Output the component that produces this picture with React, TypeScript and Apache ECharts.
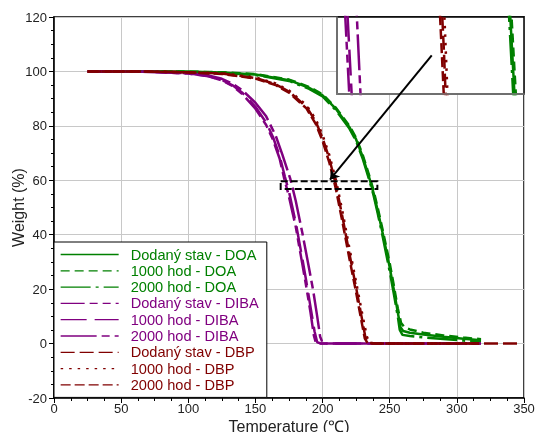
import React, { useEffect, useRef } from "react";
import * as echarts from "echarts";

// ---- data (x = temperature °C, y = weight %) ----
const doaDodany: number[][] = [[28,100],[50,100],[75,100],[100,99.9],[125,99.6],[150,98.9],[175,96.8],[190,94.0],[200,91.2],[210,86.2],[220,79.5],[225,75],[230,68.5],[235,60.5],[238,55.3],[241,49],[245,40],[250,28],[253,20],[256,11.5],[258,6],[260,4.6],[265,4.0],[275,3.3],[290,2.5],[305,1.8],[318,1.2]];
const doa1000: number[][] = [[28,100],[50,100],[75,100],[100,99.9],[125,99.7],[150,99.0],[175,97.0],[190,94.3],[200,91.6],[210,86.6],[220,80],[225,75.6],[230,69.2],[235,61.3],[238,56.2],[241,50],[245,41.2],[250,29.5],[253,21.5],[256,13],[258.5,7.5],[261,6.0],[265,5.2],[275,4.0],[290,3.0],[305,2.2],[318,1.6]];
const doa2000: number[][] = [[28,100],[50,100],[75,100],[100,99.9],[125,99.5],[150,98.7],[175,96.5],[190,93.6],[200,90.8],[210,85.7],[220,79],[225,74.4],[230,67.8],[235,59.7],[238,54.4],[241,48],[245,38.8],[250,26.5],[253,18.5],[256,10],[257.5,5],[259.5,3.2],[265,2.8],[275,2.3],[290,1.7],[305,1.1],[318,0.7]];

const dibaDodany: number[][] = [[25,100],[50,100],[75,99.8],[100,99.2],[115,98.2],[125,96.7],[133,94.6],[140,91.8],[150,86.3],[158,80.3],[163,75],[168,68],[171.5,60.5],[174.5,55],[180,43],[185,29],[188,20.5],[191,11.5],[193.5,3],[195,0.3],[198,0],[220,0],[250,0],[290,0],[318,0]];
const diba1000: number[][] = [[25,100],[50,100],[75,99.8],[100,99.3],[115,98.3],[125,96.9],[133,94.9],[140,92.3],[150,87],[158,81.2],[163,76],[168,69],[172,61.2],[175,55.8],[180,44.5],[185,31],[188,22.5],[191,13.5],[194,4.5],[196,0.5],[199,0],[220,0],[250,0],[290,0],[318,0]];
const diba2000: number[][] = [[25,100],[50,100],[75,99.8],[100,99.3],[115,98.5],[125,97.3],[133,95.5],[140,93.2],[150,88.5],[158,83.5],[165,76.5],[170,69.5],[176,60.5],[180,52.5],[185,40.5],[190,27.5],[193,19.5],[196,10],[198.2,2.5],[200,0.3],[203,0],[220,0],[250,0],[290,0],[318,0]];

const dbpDodany: number[][] = [[25,100],[50,100],[75,99.9],[100,99.7],[125,99.2],[150,97.6],[165,95.3],[175,92.6],[188,87],[195,81.5],[200,75.5],[205,68],[210,58.3],[215,46],[220,33],[225,20.5],[229,10],[232,2],[234,0.3],[240,0],[260,0],[290,0],[320,0],[347,0]];
const dbp1000: number[][] = [[25,100],[50,100],[75,99.9],[100,99.7],[125,99.3],[150,97.8],[165,95.6],[175,93],[188,87.6],[195,82.3],[200,76.6],[205,69.3],[210,60],[215,48],[220,35],[225,22.5],[229.5,11],[233,2.5],[235,0.3],[240,0],[260,0],[290,0],[318,0]];
const dbp2000: number[][] = [[25,100],[50,100],[75,99.9],[100,99.6],[125,99.1],[150,97.4],[165,95],[175,92.2],[188,86.4],[195,80.6],[200,74.4],[205,66.6],[210,56.6],[215,44.2],[220,31.2],[225,18.8],[228.5,9.5],[231.5,1.8],[233.5,0.2],[240,0],[260,0],[290,0],[318,0]];

const seriesNames = [
  "Dodaný stav - DOA", "1000 hod - DOA", "2000 hod - DOA",
  "Dodaný stav - DIBA", "1000 hod - DIBA", "2000 hod - DIBA",
  "Dodaný stav - DBP", "1000 hod - DBP", "2000 hod - DBP",
];
const seriesData = [doaDodany, doa1000, doa2000, dibaDodany, diba1000, diba2000, dbpDodany, dbp1000, dbp2000];

// zoomed region (data coords) and arrow (data coords)
const zoomX = [168.8, 240.8];
const zoomY = [56.8, 59.6];
const arrowFrom = [281.3, 105.9];
const arrowTo = [205.5, 60.2];

const xTicks = { min: 0, max: 350, interval: 50 };
const yTicks = { min: -20, max: 120, interval: 20 };

// ---- styles ----
const GREEN = "#008000";
const PURPLE = "#800080";
const RED = "#800000";
const colors = [GREEN, GREEN, GREEN, PURPLE, PURPLE, PURPLE, RED, RED, RED];
const dashes: any[] = [
  "solid", [9, 5], [30, 5, 3, 5],
  [24, 5, 8, 5, 8, 5], [26, 8], [36, 5, 8, 5],
  [14, 5], [2.5, 6], [10, 4],
];
const FONT = "'Liberation Sans', Arial, sans-serif";

export default function App() {
  const ref = useRef<HTMLDivElement>(null);
  useEffect(() => {
    if (!ref.current) return;
    const chart = echarts.init(ref.current, undefined, { renderer: "svg" });

    const mainSeries = seriesNames.map((name, i) => ({
      type: "line",
      name,
      data: seriesData[i],
      xAxisIndex: 0,
      yAxisIndex: 0,
      symbol: "none",
      showSymbol: false,
      z: 2,
      lineStyle: { color: colors[i], width: 2.5, type: dashes[i] },
      itemStyle: { color: colors[i] },
    }));
    const insetSeries = seriesNames.map((name, i) => ({
      type: "line",
      name,
      data: seriesData[i],
      xAxisIndex: 1,
      yAxisIndex: 1,
      symbol: "none",
      showSymbol: false,
      z: 6,
      clip: true,
      lineStyle: { color: colors[i], width: 2.5, type: dashes[i] },
      itemStyle: { color: colors[i] },
    }));
    const annotation = {
      type: "line",
      data: [],
      xAxisIndex: 0,
      yAxisIndex: 0,
      z: 30,
      symbol: "none",
      markArea: {
        silent: true,
        z: 30,
        itemStyle: { color: "rgba(0,0,0,0)", borderColor: "#000", borderWidth: 2, borderType: [7, 3] },
        label: { show: false },
        data: [[{ coord: [zoomX[0], zoomY[1]] }, { coord: [zoomX[1], zoomY[0]] }]],
      },
      markLine: {
        silent: true,
        z: 30,
        symbol: ["none", "arrow"],
        symbolSize: 9,
        label: { show: false },
        lineStyle: { color: "#000", width: 2, type: "solid" },
        data: [[{ coord: arrowFrom }, { coord: arrowTo }]],
      },
    };

    chart.setOption({
      animation: false,
      textStyle: { fontFamily: FONT },
      grid: [
        { left: 54, right: 12, top: 17, bottom: 34, outerBoundsMode: "none", containLabel: false, show: true, borderColor: "#000", borderWidth: 1.5, backgroundColor: "#fff" },
        { left: 337, right: 12, top: 17, height: 77, outerBoundsMode: "none", containLabel: false, show: true, borderColor: "#000", borderWidth: 1.5, backgroundColor: "#fff", z: 5 },
      ],
      legend: {
        orient: "vertical",
        left: 54,
        top: 242,
        itemWidth: 58,
        itemHeight: 14,
        itemGap: 1.3,
        padding: [5, 8, 5, 6],
        backgroundColor: "#fff",
        borderColor: "#000",
        borderWidth: 1,
        selectedMode: false,
        itemStyle: { opacity: 0 },
        lineStyle: { width: 1.3 },
        textStyle: { fontSize: 14.6, fontFamily: FONT, padding: [0, 0, 0, 7] },
        data: seriesNames.map((name, i) => ({ name, textStyle: { color: colors[i] } })),
      },
      xAxis: [
        {
          type: "value",
          gridIndex: 0,
          ...xTicks,
          name: "Temperature (\u2103)",
          nameLocation: "middle",
          nameGap: 20,
          nameMoveOverlap: false,
          nameTextStyle: { fontSize: 16, color: "#222", fontFamily: FONT },
          axisLine: { show: true, onZero: false, lineStyle: { color: "#000", width: 1.5 } },
          axisTick: { show: true, length: 5, lineStyle: { color: "#000" } },
          minorTick: { show: true, splitNumber: 4, length: 3, lineStyle: { color: "#000" } },
          axisLabel: { fontSize: 13, color: "#222", margin: 4, fontFamily: FONT },
          splitLine: { show: true, lineStyle: { color: "#c8c8c8", width: 1 } },
        },
        {
          type: "value",
          gridIndex: 1,
          min: zoomX[0],
          max: zoomX[1],
          z: 7,
          axisLine: { show: true, onZero: false, lineStyle: { color: "#808080", width: 1.5 } },
          axisTick: { show: false },
          axisLabel: { show: false },
          splitLine: { show: false },
        },
      ],
      yAxis: [
        {
          type: "value",
          gridIndex: 0,
          ...yTicks,
          name: "Weight (%)",
          nameLocation: "middle",
          nameGap: 28,
          nameMoveOverlap: false,
          nameTextStyle: { fontSize: 16, color: "#222", fontFamily: FONT },
          axisLine: { show: true, onZero: false, lineStyle: { color: "#000", width: 1.5 } },
          axisTick: { show: true, length: 5, lineStyle: { color: "#000" } },
          minorTick: { show: true, splitNumber: 4, length: 3, lineStyle: { color: "#000" } },
          axisLabel: { fontSize: 13, color: "#222", margin: 7, fontFamily: FONT },
          splitLine: { show: true, lineStyle: { color: "#c8c8c8", width: 1 } },
        },
        {
          type: "value",
          gridIndex: 1,
          min: zoomY[0],
          max: zoomY[1],
          z: 7,
          axisLine: { show: true, onZero: false, lineStyle: { color: "#808080", width: 1.5 } },
          axisTick: { show: false },
          axisLabel: { show: false },
          splitLine: { show: false },
        },
      ],
      series: [...mainSeries, ...insetSeries, annotation],
    });
    return () => chart.dispose();
  }, []);
  return <div ref={ref} style={{ position: "fixed", left: 0, top: 0, width: 536, height: 432 }} />;
}
